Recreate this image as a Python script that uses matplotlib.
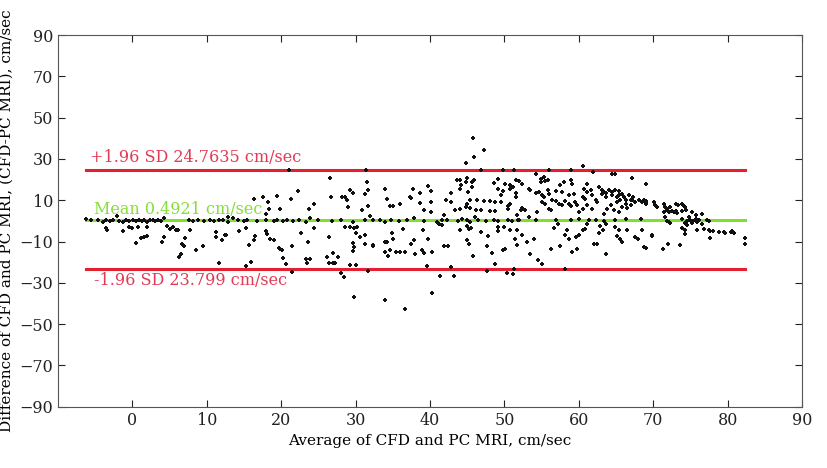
import matplotlib.pyplot as plt

# Bland-Altman: average (x) vs difference (y)
avg_a = [-6.2, -5.6, -4.6, -4.0, -3.5, -3.0, -2.6, -2.0, -1.8, -1.3, -0.9, -0.4, 0.1, 0.5, 0.9,
         1.3, 1.6, 2.0, 2.4, 2.8, 3.1, 3.5, 3.9, 4.3, 7.6, 8.1, 8.8, 9.6, 10.4, 11.0, 11.6, 12.2,
         12.8, 13.5, 14.2, 15.0,
         -3.6, -3.4, -1.2, -0.5, -0.1, 0.8, 1.9, 1.1, 1.6, 0.5, 1.9, 4.0, 4.3, 4.6, 5.0, 5.4, 5.8,
         6.2, 6.5, 6.3, 6.7, 7.0, 7.1, 7.7, 8.6, 9.5, 11.2, 11.2, 12.1, 12.6, 11.7]
diff_a = [0.9, 0.5, 0.2, -0.3, 0.4, 0.0, 0.6, 2.3, 0.1, -0.4, 0.3, 0.0, 0.5, -0.2, 0.2,
          0.0, 0.6, -0.3, 0.2, 0.4, -0.1, 0.3, 0.0, 1.6, 0.3, -0.2, 0.5, 0.1, 0.3, -0.1, 0.4, 0.2,
          -0.3, 1.4, 0.2, 0.0,
          -3.5, -4.6, -5.0, -3.0, -3.4, -3.0, -3.0, -8.4, -8.0, -10.7, -7.5, -10.0, -8.0, -2.6, -3.8,
          -2.8, -4.5, -4.5, -16.0, -17.6, -11.3, -12.0, -8.4, -4.5, -14.0, -12.0, -5.4, -8.0, -9.4,
          -7.0, -20.6]

avg_b = [26.6, 16.3, 17.6, 18.2, 18.3, 19.4, 19.8, 21.3, 22.2, 23.8, 24.4, 26.7, 28.2, 28.6, 28.8,
         29.2, 29.7, 29.0, 30.9, 31.2, 31.5, 31.7, 31.7, 31.4, 21.1, 12.9, 17.9, 32.0,
         15.4, 16.8, 18.0, 19.0, 19.5, 20.2, 20.8, 21.6, 22.4, 23.3, 23.9, 25.0, 26.8, 28.0, 29.6,
         31.2,
         12.5, 14.3, 15.3, 15.7, 16.3, 16.5, 18.0, 18.1, 18.5, 19.1, 19.7, 19.9, 20.1, 20.3, 20.7,
         21.5, 21.4, 15.3, 16.0, 22.6, 23.6, 23.3, 23.5, 23.9, 24.4, 26.4, 26.2, 26.4, 26.9, 27.2,
         27.0, 27.6, 28.1, 28.5, 28.6, 29.2, 29.8, 30.2, 30.0, 29.7, 29.8, 29.7, 30.6, 31.3, 31.3,
         32.4, 29.3, 30.0, 29.8, 31.7]
diff_b = [20.9, 10.8, 11.6, 9.2, 6.0, 12.0, 6.0, 10.5, 14.4, 6.0, 8.1, 11.6, 11.6, 11.6, 10.0,
          14.9, 13.6, 6.5, 5.2, 13.2, 18.6, 14.9, 7.1, 24.5, 24.5, 2.0, 3.2, 2.5,
          0.3, 0.0, 0.5, -0.2, 0.3, 0.1, 0.6, 0.0, 0.4, -0.5, 1.3, 0.2, 0.0, 0.4, -0.3,
          0.5,
          -6.9, -4.8, -3.2, -11.8, -9.3, -7.4, -5.0, -6.2, -9.0, -9.3, -13.2, -13.8, -14.2, -18.2,
          -21.0, -12.1, -24.7, -21.9, -19.8, -6.1, -10.2, -18.6, -20.5, -18.6, -3.2, -8.0, -17.4,
          -20.3, -20.6, -20.6, -15.5, -17.7, -25.3, -27.0, -2.9, -3.0, -3.2, -3.0, -6.1, -10.8,
          -12.6, -14.5, -7.7, -6.8, -11.0, -12.0, -21.5, -21.5, -37.0, -24.3]

avg_c = [45.8, 47.3, 45.9, 44.9, 46.8, 49.8, 51.3, 34.0, 34.2, 34.6, 35.0, 36.0, 37.3, 37.5, 37.7,
         38.7, 38.7, 39.2, 39.8, 40.2, 40.1, 40.2, 42.1, 41.9, 42.8, 42.8, 43.4, 43.6, 44.1, 44.2,
         44.1, 44.8, 45.0, 45.1, 45.7, 45.9, 45.7, 44.0, 45.0, 44.8, 45.4, 45.4, 46.3, 46.2, 46.1,
         46.8, 47.2, 48.0, 48.0, 48.8, 48.8, 48.6, 49.2, 49.2, 49.5, 49.6, 49.8, 50.1, 50.8, 50.7,
         51.2, 50.5, 50.5, 50.8, 51.5, 51.6, 51.5, 51.7,
         32.4, 33.3, 33.9, 34.7, 35.8, 36.9, 37.8, 39.2, 41.0, 41.6, 42.3, 43.7, 44.3, 45.0, 45.4,
         46.4, 47.5, 48.6, 49.2, 50.5, 51.0, 51.8,
         32.4, 34.0, 34.2, 34.9, 35.0, 33.9, 34.3, 34.6, 35.5, 36.0, 36.7, 36.4, 37.5, 37.8, 38.0,
         38.9, 39.2, 39.7, 39.1, 40.3, 39.6, 41.3, 43.2, 42.8, 41.9, 42.4, 41.2, 41.6, 44.0, 45.0,
         45.2, 45.5, 45.0, 45.2, 45.8, 46.8, 47.7, 47.8, 48.4, 48.7, 49.2, 49.2, 49.9, 50.1, 49.8,
         50.8, 51.4, 51.7, 51.3, 51.2, 40.3, 33.9, 36.6, 47.6, 50.4]
diff_c = [40.3, 34.5, 31.0, 28.2, 24.8, 24.8, 24.8, 15.6, 10.8, 7.3, 7.3, 8.1, 11.6, 11.1, 15.6,
          13.7, 8.9, 5.2, 17.1, 14.5, 9.2, 4.3, 10.0, 2.7, 13.7, 9.2, 5.2, 19.7, 19.7, 17.2,
          15.6, 18.9, 21.0, 14.0, 18.9, 19.7, 16.4, 6.0, 8.4, 6.8, 10.0, 6.3, 10.0, 5.5, 1.9,
          5.5, 9.7, 9.7, 4.8, 9.2, 4.8, 18.5, 20.5, 15.6, 12.4, 9.2, 14.5, 18.1, 17.2, 15.6,
          16.4, 6.0, 7.1, 8.4, 20.0, 13.5, 11.6, 2.7,
          0.2, 0.5, -0.3, 0.4, 0.0, 0.6, 1.4, 0.1, -0.4, 0.3, 0.5, 0.0, 0.8, 0.2, -0.3,
          0.4, 0.1, 0.6, -0.2, 0.3, 0.0, 0.5,
          -11.8, -10.2, -10.2, -6.1, -8.9, -15.3, -17.0, -13.9, -15.0, -15.0, -15.3, -4.0, -11.0,
          -9.4, -15.8, -14.2, -15.5, -9.0, -4.2, -15.3, -21.8, -26.6, -26.6, -22.4, -12.1, -12.1,
          -1.3, -1.8, -4.5, -2.6, -3.7, -3.2, -9.4, -11.0, -17.1, -5.3, -12.3, -7.4, -15.5, -21.0,
          -2.9, -5.0, -2.9, -13.4, -14.2, -4.5, -9.0, -11.5, -23.1, -25.8, -34.9, -38.1, -42.6,
          -24.5, -25.4]

avg_d = [56.0, 59.0, 60.5, 61.9, 64.5, 64.9, 54.3, 54.9, 55.3, 54.9, 55.5, 55.9, 52.0, 52.4, 53.3,
         53.5, 54.2, 54.6, 55.1, 55.9, 56.0, 55.3, 56.9, 57.8, 57.5, 58.0, 58.9, 59.1, 58.7, 59.3,
         52.3, 52.4, 52.8, 54.4, 55.1, 55.5, 56.0, 56.2, 56.4, 56.9, 57.3, 57.8, 58.2, 58.7, 58.9,
         59.5, 59.8, 60.5, 60.9, 60.7, 61.1, 61.1, 61.6, 61.8, 62.3, 62.5, 61.1, 61.8, 60.5, 60.0,
         62.7, 63.1, 63.1, 63.4, 63.6, 63.6, 64.0, 64.5, 64.5, 64.9, 65.2, 65.4, 65.2, 65.6, 65.8,
         66.1, 66.3, 66.3, 66.7, 67.0, 67.2, 67.0, 67.3, 67.6, 68.1, 68.5, 68.7, 69.0, 67.2, 69.0,
         65.4, 65.8, 66.5, 64.3, 63.8, 63.4, 64.7, 65.4,
         52.0, 53.3, 54.2, 56.9, 58.9, 60.0, 61.4, 62.3, 63.4, 64.9, 66.3, 68.3,
         51.7, 52.4, 53.1, 53.5, 54.0, 54.5, 55.1, 56.2, 56.7, 57.2, 57.5, 58.2, 58.4, 58.7, 59.1,
         59.6, 59.8, 60.0, 60.5, 60.9, 61.1, 62.0, 62.5, 62.7, 62.9, 63.2, 63.6, 63.6, 64.9, 65.2,
         65.4, 65.6, 65.8, 66.5, 67.6, 67.9, 68.5, 68.7, 69.9, 58.2]
diff_d = [24.8, 24.8, 26.6, 23.7, 22.6, 22.6, 22.9, 20.5, 21.3, 18.9, 19.2, 19.7, 19.3, 18.0, 15.6,
          14.8, 13.5, 14.0, 12.4, 14.8, 13.2, 11.6, 14.5, 14.0, 17.2, 18.9, 19.7, 18.1, 12.4, 13.2,
          5.2, 6.4, 5.2, 4.3, 9.2, 8.4, 6.0, 5.2, 10.0, 9.7, 8.4, 7.6, 9.5, 8.4, 7.1,
          9.2, 7.6, 11.6, 10.8, 15.6, 14.0, 18.1, 14.8, 12.4, 10.0, 9.2, 7.6, 6.0, 6.0, 4.3,
          16.4, 14.8, 12.9, 14.0, 13.5, 11.6, 14.8, 12.4, 14.0, 14.8, 11.6, 12.4, 9.2, 10.0, 13.2,
          11.6, 10.0, 8.4, 12.4, 10.3, 10.0, 7.6, 11.6, 9.2, 10.0, 9.2, 10.0, 9.7, 21.0, 18.1,
          14.5, 6.8, 6.4, 7.6, 6.0, 3.5, 5.2, 4.3,
          0.3, 1.9, 0.3, 0.3, 0.3, 1.1, 0.3, 0.3, -0.2, 0.6, 1.1, 0.8,
          -4.5, -6.9, -10.2, -15.8, -8.6, -18.7, -20.7, -13.4, -3.2, -1.3, -12.3, -6.9, -4.5, -8.6,
          -15.0, -7.8, -13.4, -6.9, -4.5, -3.7, -1.3, -11.0, -11.0, -6.1, -2.6, -4.5, -15.8, -1.3,
          -2.9, -7.4, -4.5, -8.6, -10.2, -4.5, -7.7, -8.6, -4.5, -12.6, -7.0, -23.1]

avg_e = [69.0, 69.0, 69.0, 70.1, 70.3, 70.5, 71.4, 71.6, 71.9, 71.4, 72.1, 71.9, 72.3, 72.5, 72.8,
         73.0, 73.2, 73.1, 73.4, 73.9, 74.1, 74.3, 74.4, 73.9, 75.2, 75.7, 76.6, 71.6, 71.9, 72.1,
         72.3, 73.9, 74.3, 74.5, 74.8, 75.0, 75.2, 75.4, 75.7, 75.9, 76.1, 76.6, 77.2, 77.5,
         73.9, 74.3, 74.5, 75.9, 76.8, 77.5, 77.7, 78.1, 78.8, 79.5, 79.7, 80.4, 80.8, 80.6,
         82.4, 82.4, 77.7, 74.3, 69.8, 69.0, 71.3, 72.0, 73.6]
diff_e = [18.1, 9.2, 8.4, 9.2, 7.6, 6.5, 8.4, 6.8, 5.5, 4.4, 4.4, 6.0, 6.5, 4.8, 4.4,
          4.7, 3.9, 8.4, 7.6, 8.4, 7.1, 6.5, 5.5, 4.8, 4.4, 2.7, 3.5, 1.9, 0.0, -0.5,
          -1.0, 1.1, -1.0, 0.0, 1.9, 0.6, -1.0, -0.2, 1.1, -0.5, 0.3, -1.3, 0.6, 0.0,
          -3.4, -4.5, -2.1, -4.5, -3.7, -4.2, -4.8, -4.8, -5.3, -5.3, -6.1, -5.3, -6.1, -4.8,
          -8.5, -11.3, -8.1, -6.4, -7.4, -12.9, -13.5, -11.3, -11.6]

avg = avg_a + avg_b + avg_c + avg_d + avg_e
diff = diff_a + diff_b + diff_c + diff_d + diff_e

mean_diff = 0.4921
upper_loa = 24.7635
lower_loa = -23.3

red = '#e3202f'
green = '#7fe12e'

plt.rcParams['font.family'] = ['DejaVu Serif']

fig = plt.figure(figsize=(8.28, 4.68), dpi=100)
ax = fig.add_axes([0.070, 0.131, 0.8986, 0.794])

x0, x1 = min(avg), max(avg)
ax.plot([x0, x1], [upper_loa, upper_loa], color=red, lw=2.2, zorder=2)
ax.plot([x0, x1], [lower_loa, lower_loa], color=red, lw=2.2, zorder=2)
ax.plot([x0, x1], [mean_diff, mean_diff], color=green, lw=2.2, zorder=2)
ax.scatter(avg, diff, marker='P', s=11, color='#111111', linewidths=0, zorder=3)

ax.text(-5.7, upper_loa + 1.6, '+1.96 SD 24.7635 cm/sec', color='#e23a55', fontsize=11.5, va='bottom')
ax.text(-5.2, mean_diff + 1.0, 'Mean 0.4921 cm/sec', color='#86de3a', fontsize=11.5, va='bottom')
ax.text(-5.2, lower_loa - 1.5, '-1.96 SD 23.799 cm/sec', color='#e23a55', fontsize=11.5, va='top')

ax.set_xlim(-10, 90)
ax.set_ylim(-90, 90)
ax.set_xticks(range(0, 91, 10))
ax.set_yticks(range(-90, 91, 20))
ax.tick_params(direction='in', top=True, right=True, labelsize=11.5, colors='#222222', length=5)
for s in ax.spines.values():
    s.set_color('#555555')
ax.set_xlabel('Average of CFD and PC MRI, cm/sec', fontsize=11)
ax.set_ylabel('Difference of CFD and PC MRI, (CFD-PC MRI), cm/sec', fontsize=11)

fig.savefig('out.png', dpi=100)
